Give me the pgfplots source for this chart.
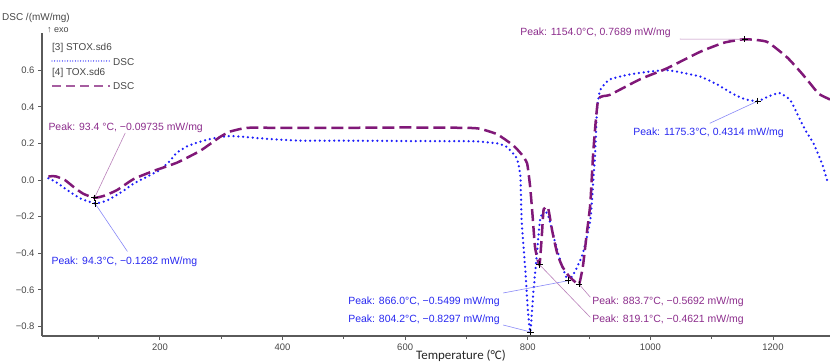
\documentclass[border=0pt]{standalone}
\usepackage{pgfplots}
\pgfplotsset{compat=1.18}
\usepackage{fontspec}
\setmainfont{Liberation Sans}
\newfontfamily\carlito{Carlito}
\definecolor{tox}{RGB}{128,24,120}
\definecolor{stox}{RGB}{30,30,250}
\definecolor{toxtxt}{RGB}{140,45,140}
\definecolor{stoxtxt}{RGB}{40,40,240}
\definecolor{axgray}{RGB}{90,90,90}
\definecolor{txtgray}{RGB}{70,70,70}
\begin{document}
\begin{tikzpicture}
\begin{axis}[
  scale only axis, width=788bp, height=303bp,
  at={(0,0)}, anchor=south west,
  xmin=7.7, xmax=1293, ymin=-0.852, ymax=0.803,
  axis lines=left, axis line style={-, axgray, line width=1.2bp},
  xtick={200,400,600,800,1000,1200},
  minor xtick={100,300,500,700,900,1100,1300},
  ytick={-0.8,-0.6,-0.4,-0.2,0,0.2,0.4,0.6},
  yticklabels={−0.8,−0.6,−0.4,−0.2,0.0,0.2,0.4,0.6},
  tick align=outside, tick pos=left,
  tick style={axgray, line width=0.8bp},
  major tick length=4bp, minor tick length=3bp,
  /pgf/number format/assume math mode=true,
  /pgf/number format/1000 sep={},
  ticklabel style={font=\fontsize{9.5}{11}\selectfont, text=txtgray},
  clip=false,
]
% STOX (blue dotted)
\addplot[stox, line width=2.5bp, line cap=round, dash pattern=on 0pt off 4.8bp, smooth, tension=0.3] coordinates {
(18,0.01) (30,-0.01) (49,-0.055) (70,-0.10) (94.3,-0.1282) (115,-0.11) (140,-0.06) (157,-0.02) (180,0.02) (200,0.055) (215,0.10) (228,0.15) (245,0.185) (266,0.21) (290,0.23) (315,0.24) (340,0.235) (374,0.225) (429,0.215) (500,0.215) (600,0.213) (700,0.212) (722,0.21) (750,0.20) (766,0.18) (782,0.12) (788,0.02) (790,-0.22) (796,-0.49) (800,-0.70) (804.2,-0.8297) (809,-0.62) (815,-0.40) (820,-0.22) (826,-0.165) (833,-0.19) (840,-0.28) (847,-0.37) (855,-0.46) (866,-0.5499) (877,-0.50) (890,-0.40) (902,-0.22) (907,0.0) (910,0.15) (913,0.38) (918,0.49) (934,0.55) (972,0.58) (1027,0.60) (1081,0.565) (1110,0.52) (1135,0.47) (1155,0.44) (1175.3,0.4314) (1195,0.46) (1211,0.475) (1228,0.437) (1244,0.33) (1255,0.26) (1266,0.20) (1280,0.09) (1290,-0.02)
};
% TOX (purple dashed)
\addplot[tox, line width=2.5bp, dash pattern=on 12bp off 5bp, smooth, tension=0.3] coordinates {
(18,0.02) (30,0.02) (45,0.0) (60,-0.04) (75,-0.075) (93.4,-0.09735) (110,-0.085) (130,-0.055) (157,0.005) (190,0.05) (228,0.095) (266,0.16) (298,0.235) (315,0.265) (342,0.285) (400,0.285) (500,0.285) (600,0.287) (700,0.285) (722,0.28) (750,0.25) (776,0.19) (790,0.14) (799,0.09) (804,-0.04) (808,-0.2) (812,-0.37) (819.1,-0.4621) (823,-0.3) (826,-0.16) (833,-0.15) (840,-0.28) (848,-0.40) (856,-0.47) (866,-0.52) (875,-0.55) (883.7,-0.5692) (890,-0.47) (896,-0.3) (902,-0.13) (907,0.16) (915,0.44) (934,0.465) (983,0.55) (1027,0.61) (1081,0.70) (1120,0.75) (1154,0.7689) (1190,0.755) (1223,0.67) (1245,0.59) (1260,0.53) (1275,0.47) (1293,0.44)
};
% peak markers
\addplot[only marks, mark=+, mark size=3.2bp, black, line width=0.8bp] coordinates {
(93.4,-0.09735) (94.3,-0.1282) (804.2,-0.8297) (819.1,-0.4621) (866.0,-0.5499) (883.7,-0.5692) (1154.0,0.7689) (1175.3,0.4314)
};
% leader lines
\draw[toxtxt!60, line width=0.6bp] (axis cs:143.5,0.257) -- (axis cs:93.4,-0.09735);
\draw[stoxtxt!55, line width=0.6bp] (axis cs:147,-0.39) -- (axis cs:94.3,-0.1282);
\draw[stoxtxt!55, line width=0.6bp] (axis cs:760,-0.617) -- (axis cs:866.0,-0.5499);
\draw[stoxtxt!55, line width=0.6bp] (axis cs:760,-0.792) -- (axis cs:804.2,-0.8297);
\draw[toxtxt!60, line width=0.6bp] (axis cs:902,-0.64) -- (axis cs:883.7,-0.5692);
\draw[toxtxt!60, line width=0.6bp] (axis cs:902,-0.75) -- (axis cs:819.1,-0.4621);
\draw[toxtxt!60, line width=0.6bp] (axis cs:1048,0.77) -- (axis cs:1154.0,0.7689);
\draw[stoxtxt!55, line width=0.6bp] (axis cs:1097,0.31) -- (axis cs:1175.3,0.4314);
% annotation texts
\tikzset{ann/.style={anchor=west, inner sep=0pt, font=\fontsize{10.5}{12}\selectfont}}
\node[ann, text=toxtxt] at (axis cs:18,0.284) {Peak: 93.4 °C, −0.09735 mW/mg};
\node[ann, text=stoxtxt] at (axis cs:23,-0.448) {Peak: 94.3°C, −0.1282 mW/mg};
\node[ann, text=stoxtxt] at (axis cs:507,-0.667) {Peak: 866.0°C, −0.5499 mW/mg};
\node[ann, text=stoxtxt] at (axis cs:507,-0.765) {Peak: 804.2°C, −0.8297 mW/mg};
\node[ann, text=toxtxt] at (axis cs:905,-0.667) {Peak: 883.7°C, −0.5692 mW/mg};
\node[ann, text=toxtxt] at (axis cs:905,-0.765) {Peak: 819.1°C, −0.4621 mW/mg};
\node[ann, text=toxtxt] at (axis cs:787.5,0.803) {Peak: 1154.0°C, 0.7689 mW/mg};
\node[ann, text=stoxtxt] at (axis cs:972,0.257) {Peak: 1175.3°C, 0.4314 mW/mg};
\end{axis}
% legend
\tikzset{leg/.style={anchor=west, inner sep=0pt, text=txtgray, font=\fontsize{10}{12}\selectfont}}
\node[leg] at (10bp,288bp) {[3] STOX.sd6};
\draw[stox, line width=1.3bp, line cap=round, dash pattern=on 0pt off 2.6bp] (10bp,275bp) -- (68bp,275bp);
\node[leg] at (71bp,274bp) {DSC};
\node[leg] at (10bp,263bp) {[4] TOX.sd6};
\draw[tox!70, line width=1.6bp, dash pattern=on 9bp off 5bp] (10bp,250bp) -- (68bp,250bp);
\node[leg] at (71bp,250bp) {DSC};
% axis titles
\node[leg] at (-40bp,318bp) {DSC /(mW/mg)};
\node[anchor=west, inner sep=0pt, text=txtgray, font=\fontsize{9}{11}\selectfont] at (5bp,306bp) {↑ exo};
\node[anchor=center, inner sep=0pt, text=black!85, font=\carlito\fontsize{13}{15}\selectfont] at (419bp,-20bp) {Temperature (°C)};
\pgfresetboundingbox
\useasboundingbox (-42bp,-26bp) rectangle (788bp,336bp);
\end{tikzpicture}
\end{document}
